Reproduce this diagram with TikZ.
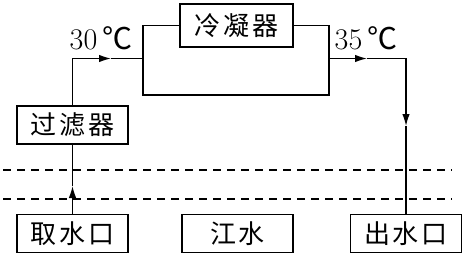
\documentclass[tikz,border=0pt]{standalone}
\usepackage{fontspec}
\newfontfamily\cjk[LetterSpace=10]{Noto Sans CJK SC}
\newfontfamily\cjkdeg{Noto Sans CJK SC}
\usetikzlibrary{arrows.meta}

\begin{document}
\begin{tikzpicture}[x=1pt, y=-1pt, line width=1.3pt,
    box/.style={draw, minimum width=111pt, minimum height=38pt, inner sep=0pt,
      font=\cjk\fontsize{26}{30}\selectfont},
    flow/.style={-{Latex[length=12pt,width=7.5pt]}},
    bank/.style={dash pattern=on 8pt off 6pt},
    temp/.style={font=\fontsize{30}{34}\selectfont}]
    \useasboundingbox (0,0) rectangle (465,257);
    % river banks
    \draw[bank] (3,170) -- (452,170);
    \draw[bank] (3,199) -- (452,199);
    \node[box] (intake) at (72.5,233.5) {取水口};
    \node[box] (river) at (237.5,233.5) {江水};
    \node[box] (outlet) at (406,233.5) {出水口};
    \node[box] (filter) at (72.5,125) {过滤器};
    \node[box, minimum width=113pt, minimum height=43pt] (cond) at (236.5,25.5) {冷凝器};
    \coordinate (jl) at (143,58.5);
    \coordinate (jr) at (329,58.5);
    \coordinate (bl) at (143,95);
    \coordinate (br) at (329,95);
    \coordinate (inarr) at (72.5,186);
    \coordinate (hot) at (111,58.5);
    \coordinate (warm) at (367,58.5);
    \coordinate (outarr) at (406,126);
    % water path
    \draw[flow] (intake.north) -- (inarr);
    \draw (inarr) -- (filter.south);
    \draw[flow] (filter.north) |- (hot);
    \draw (hot) -- (jl);
    \draw (cond.west) -| (bl) -- (br) |- (cond.east);
    \draw[flow] (jr) -- (warm);
    \draw[flow] (warm) -| (outarr);
    \draw (outarr) -- (outlet.north);
    \node[temp] (t30) at (101,38) {30\,{\cjkdeg\fontsize{30}{34}\selectfont ℃}};
    \node[temp] (t35) at (366,38) {35\,{\cjkdeg\fontsize{30}{34}\selectfont ℃}};
\end{tikzpicture}
\end{document}
